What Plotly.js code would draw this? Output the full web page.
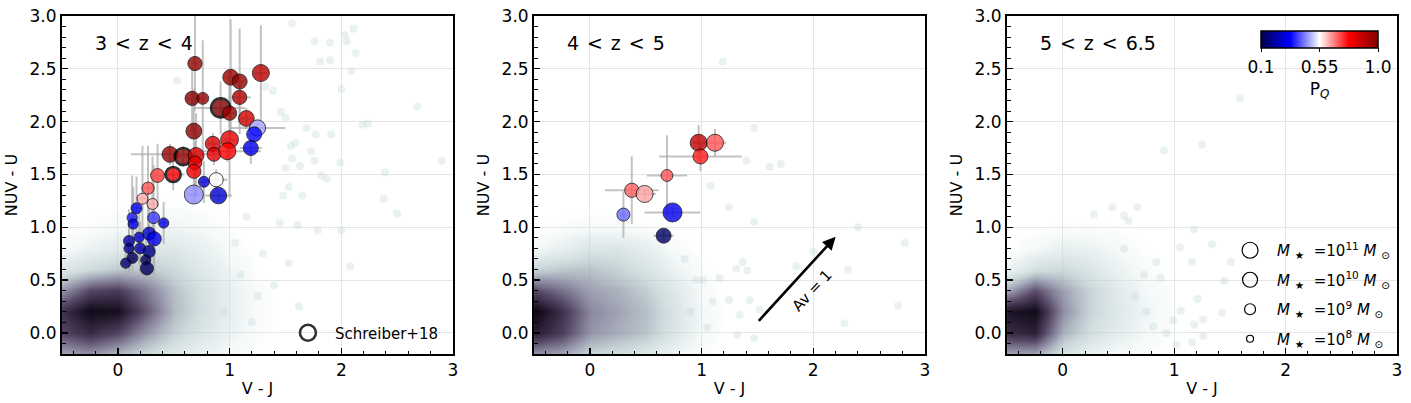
<!DOCTYPE html>
<html>
<head>
<meta charset="utf-8">
<script src="https://cdn.plot.ly/plotly-3.0.1.min.js"></script>
<style>html,body{margin:0;padding:0;background:#fff;}#chart{width:1411px;height:403px;}</style>
</head>
<body>
<div id="chart"></div>
<script>
// ---------------- data ----------------
// Panel 1 : 3 < z < 4
const vj1   = [0.69,1.01,1.09,1.28,0.665,0.76,1.09,0.92,1.00,1.15,1.25,1.22,1.19,0.68,1.00,0.85,0.86,0.98,0.466,0.585,0.70,0.69,0.68,0.495,0.355,0.27,0.88,0.77,0.68,0.90,0.22,0.31,0.167,0.128,0.137,0.32,0.41,0.10,0.19,0.28,0.325,0.10,0.20,0.28,0.13,0.07,0.25,0.26];
const nuvu1 = [2.55,2.42,2.38,2.46,2.22,2.22,2.23,2.13,2.08,2.03,1.94,1.88,1.75,1.91,1.83,1.79,1.69,1.72,1.69,1.67,1.68,1.61,1.53,1.50,1.49,1.37,1.45,1.43,1.31,1.30,1.27,1.22,1.18,1.09,1.03,1.09,1.04,0.87,0.905,0.94,0.89,0.80,0.80,0.77,0.71,0.66,0.69,0.61];
const pq1   = [0.97,0.95,0.97,0.90,0.98,0.97,0.91,1.00,0.95,0.86,0.47,0.33,0.30,0.98,0.82,0.84,0.82,0.78,0.97,0.97,0.84,0.82,0.80,0.80,0.72,0.70,0.55,0.28,0.45,0.27,0.62,0.62,0.30,0.35,0.30,0.38,0.30,0.22,0.28,0.26,0.30,0.18,0.22,0.18,0.12,0.15,0.12,0.13];
const logm1 = [9.8,10.2,10.0,10.5,9.8,9.2,9.8,11.0,9.8,10.2,10.3,10.0,10.0,10.2,10.7,10.0,9.7,10.5,10.2,10.5,10.2,9.7,9.8,10.0,9.7,9.3,9.8,9.0,11.0,10.4,9.0,9.0,9.0,8.8,8.8,9.2,8.8,9.0,8.8,9.5,9.8,8.8,9.0,9.3,9.0,8.8,8.8,9.5];
const ex1   = [0.03,0.05,0.04,0.05,0.05,0.03,0.10,0.22,0.05,0.05,0.25,0.05,0.10,0.03,0.05,0.05,0.05,0.30,0.35,0.08,0.05,0.05,0.05,0.10,0.05,0.06,0.10,0.05,0.05,0.12,0.05,0.05,0.04,0.03,0.03,0.03,0.03,0.03,0.03,0.03,0.03,0.03,0.03,0.03,0.03,0.03,0.03,0.03];
const ey1   = [0.45,0.55,0.50,0.45,0.30,0.55,0.15,0.25,0.40,0.10,0.05,0.08,0.15,0.40,0.55,0.10,0.10,0.10,0.10,0.10,0.40,0.20,0.15,0.15,0.30,0.40,0.10,0.20,0.08,0.05,0.50,0.45,0.30,0.40,0.35,0.50,0.20,0.30,0.25,0.30,0.35,0.25,0.25,0.25,0.15,0.10,0.20,0.10];
const schreiber1 = [0,0,0,0,0,0,0,1,0,0,0,0,0,0,0,0,0,0,0,1,0,0,0,1,0,0,0,0,0,0,0,0,0,0,0,0,0,0,0,0,0,0,0,0,0,0,0,0];

// Panel 2 : 4 < z < 5
const vj2   = [0.974,1.12,0.99,0.69,0.375,0.49,0.30,0.74,0.66];
const nuvu2 = [1.80,1.80,1.67,1.49,1.35,1.315,1.12,1.14,0.92];
const pq2   = [0.88,0.70,0.75,0.70,0.69,0.63,0.42,0.30,0.13];
const logm2 = [10.5,10.5,10.0,9.2,9.8,10.5,9.5,11.0,10.0];
const ex2   = [0.05,0.10,0.37,0.18,0.24,0.10,0.03,0.25,0.09];
const ey2   = [0.17,0.13,0.14,0.38,0.32,0.06,0.22,0.05,0.05];

// background galaxy density (V-J bin centres, NUV-U bin centres, relative density)
const gridVJ  = [-0.5,-0.25,0,0.25,0.5,0.75,1.0,1.25,1.5,1.75,2.0,2.25,2.5,2.75,3.0];
const gridNUV = [-0.2,0.0,0.2,0.4,0.6,0.8,1.0,1.2,1.4,1.6];
const dens1 = [
 [0.45,0.50,0.40,0.28,0.18,0.10,0.04,0.01,0,0,0,0,0,0,0],
 [0.72,0.82,0.72,0.50,0.32,0.20,0.10,0.03,0,0,0,0,0,0,0],
 [0.80,0.97,0.95,0.68,0.40,0.25,0.12,0.03,0,0,0,0,0,0,0],
 [0.50,0.72,0.76,0.58,0.38,0.24,0.12,0.03,0,0,0,0,0,0,0],
 [0.18,0.28,0.35,0.35,0.28,0.18,0.08,0.01,0,0,0,0,0,0,0],
 [0.04,0.10,0.16,0.20,0.18,0.12,0.04,0,0,0,0,0,0,0,0],
 [0,0.02,0.05,0.08,0.08,0.05,0.01,0,0,0,0,0,0,0,0],
 [0,0,0.01,0.02,0.02,0.01,0,0,0,0,0,0,0,0,0],
 [0,0,0,0,0,0,0,0,0,0,0,0,0,0,0],
 [0,0,0,0,0,0,0,0,0,0,0,0,0,0,0]];
const dens2 = [
 [0.50,0.45,0.30,0.25,0.18,0.08,0.02,0,0,0,0,0,0,0,0],
 [0.88,0.75,0.50,0.43,0.36,0.20,0.05,0,0,0,0,0,0,0,0],
 [1.00,0.80,0.54,0.46,0.38,0.22,0.06,0,0,0,0,0,0,0,0],
 [0.72,0.60,0.47,0.42,0.33,0.18,0.04,0,0,0,0,0,0,0,0],
 [0.30,0.35,0.37,0.31,0.22,0.10,0.02,0,0,0,0,0,0,0,0],
 [0.06,0.12,0.20,0.20,0.13,0.04,0,0,0,0,0,0,0,0,0],
 [0,0.02,0.04,0.04,0.02,0,0,0,0,0,0,0,0,0,0],
 [0,0,0,0,0,0,0,0,0,0,0,0,0,0,0],
 [0,0,0,0,0,0,0,0,0,0,0,0,0,0,0],
 [0,0,0,0,0,0,0,0,0,0,0,0,0,0,0]];
const dens3 = [
 [0.45,0.45,0.22,0.10,0.04,0.01,0,0,0,0,0,0,0,0,0],
 [0.82,0.86,0.42,0.25,0.14,0.06,0.01,0,0,0,0,0,0,0,0],
 [0.92,0.97,0.52,0.30,0.18,0.08,0.01,0,0,0,0,0,0,0,0],
 [0.45,0.70,0.47,0.30,0.16,0.06,0.01,0,0,0,0,0,0,0,0],
 [0.08,0.25,0.28,0.20,0.10,0.03,0,0,0,0,0,0,0,0,0],
 [0,0.05,0.12,0.10,0.05,0.01,0,0,0,0,0,0,0,0,0],
 [0,0,0.02,0.02,0.01,0,0,0,0,0,0,0,0,0,0],
 [0,0,0,0,0,0,0,0,0,0,0,0,0,0,0],
 [0,0,0,0,0,0,0,0,0,0,0,0,0,0,0],
 [0,0,0,0,0,0,0,0,0,0,0,0,0,0,0]];

// sparse background galaxies
const bgx1 = [1.56,1.76,1.90,2.03,2.11,2.05,2.13,1.81,1.90,2.09,2.00,1.39,1.32,2.68,1.46,1.50,1.69,1.77,1.91,2.19,2.24,1.55,1.59,1.73,1.63,1.56,1.50,1.76,1.99,2.39,2.90,1.82,1.87,1.53,1.65,1.48,2.38,2.00,2.08,2.50,1.79,1.61,1.53,1.45,0.53,1.10,1.25,1.30,1.05,0.95,1.20,1.40,1.62,1.15];
const bgy1 = [2.93,2.76,2.75,2.82,2.88,2.76,2.65,2.57,2.58,2.48,2.31,2.29,2.33,2.14,2.09,2.04,1.94,1.88,1.88,1.97,1.98,1.77,1.80,1.72,1.58,1.65,1.56,1.63,1.61,1.52,1.63,1.49,1.46,1.38,1.30,1.30,1.27,0.97,0.63,1.13,0.97,1.02,0.66,1.04,2.39,0.55,0.35,0.75,0.85,0.20,0.10,0.45,0.25,1.10];
const bgx2 = [1.245,1.47,2.40,2.82,2.00,2.31,1.85,1.37,1.41,1.31,1.43,1.245,1.34,2.28,2.76,1.52,1.47,1.32,1.16,0.95,1.01,1.19,1.47,1.40,1.61,1.71,1.08,0.85,0.90,1.05,1.10];
const bgy2 = [1.19,1.05,1.00,0.85,0.77,0.60,0.63,0.67,0.59,0.61,0.31,0.31,0.17,0.09,0.26,0.22,-0.05,-0.02,0.52,0.50,0.50,2.57,1.94,1.63,1.57,1.60,1.39,0.70,0.20,0.05,0.30];
const bgx3 = [0.445,0.28,0.55,0.59,0.67,1.18,1.05,1.34,1.16,1.51,1.45,1.21,1.43,1.26,1.18,1.26,1.16,1.02,1.06,0.81,0.93,0.99,0.73,0.88,0.84,1.59,1.25,0.91,0.65,0.75,0.55];
const bgy3 = [1.19,1.12,1.11,1.06,1.19,0.98,0.81,0.84,0.67,0.67,0.49,0.32,0.19,0.13,0.08,-0.03,-0.09,-0.11,0.21,0.06,0.00,0.12,0.55,0.52,0.67,2.22,1.78,1.73,0.35,0.20,0.80];

// legend masses (log10 M / Msun)
const legendLogM = [11,10,9,8];
const legendLabels = ['11','10','9','8'];

// dust vector A_V = 1 (start, end in V-J, NUV-U)
const avStart = [1.50,0.10];
const avEnd   = [2.20,0.91];

const HS = '\u200a';
const panelTitles = ['3'+HS+' &lt; '+HS+'z'+HS+' &lt; '+HS+'4', '4'+HS+' &lt; '+HS+'z'+HS+' &lt; '+HS+'5', '5'+HS+' &lt; '+HS+'z'+HS+' &lt; '+HS+'6.5'];
const xTicks = [0,1,2,3];
const yTicks = [0.0,0.5,1.0,1.5,2.0,2.5,3.0];
const pqTicks = [0.1,0.55,1.0];

// ---------------- styling helpers ----------------
const FONT = 'DejaVu Sans, sans-serif';
const sizeOf = m => 7 + 4*(m - 8);
const seismic = [[0,'rgb(0,0,77)'],[0.25,'rgb(0,0,255)'],[0.5,'rgb(255,255,255)'],[0.75,'rgb(255,0,0)'],[1,'rgb(128,0,0)']];
const boneScale = [
  [0,'rgba(255,255,255,0)'],
  [0.02,'rgba(222,235,235,0.12)'],
  [0.1,'rgba(206,223,223,0.42)'],
  [0.3,'rgba(180,198,202,0.72)'],
  [0.5,'rgba(135,135,158,0.88)'],
  [0.72,'rgba(75,60,92,0.95)'],
  [0.9,'rgba(35,25,45,1)'],
  [1,'rgba(10,5,15,1)']];

const traces = [];
const dens = [dens1,dens2,dens3];
const bgx = [bgx1,bgx2,bgx3], bgy = [bgy1,bgy2,bgy3];
for (let i=0;i<3;i++){
  const xa = i===0?'x':'x'+(i+1), ya = i===0?'y':'y'+(i+1);
  traces.push({type:'heatmap', x:gridVJ, y:gridNUV, z:dens[i], zmin:0, zmax:1, zsmooth:'best',
    colorscale:boneScale, showscale:false, hoverinfo:'skip', xaxis:xa, yaxis:ya, showlegend:false});
  traces.push({type:'scatter', mode:'markers', x:bgx[i], y:bgy[i], xaxis:xa, yaxis:ya,
    marker:{size:8, color:'rgb(196,216,216)', opacity:0.35, line:{width:0}}, hoverinfo:'skip', showlegend:false});
}

function addPoints(vj, nuvu, pq, logm, ex, ey, sch, xa, ya){
  traces.push({type:'scatter', mode:'markers', x:vj, y:nuvu, xaxis:xa, yaxis:ya, showlegend:false, hoverinfo:'skip',
    marker:{size:2, opacity:0},
    error_x:{type:'data', array:ex, color:'rgba(175,175,175,0.75)', thickness:2, width:0},
    error_y:{type:'data', array:ey, color:'rgba(175,175,175,0.75)', thickness:2, width:0}});
  traces.push({type:'scatter', mode:'markers', x:vj, y:nuvu, xaxis:xa, yaxis:ya, showlegend:false,
    marker:{size:logm.map(sizeOf), color:pq, coloraxis:'coloraxis', opacity:0.8,
      line:{color:'black', width:sch.map(s=>s?2.6:0.9)}}});
}
addPoints(vj1,nuvu1,pq1,logm1,ex1,ey1,schreiber1,'x','y');
addPoints(vj2,nuvu2,pq2,logm2,ex2,ey2,vj2.map(()=>0),'x2','y2');

// legend entries
traces.push({type:'scatter', mode:'markers', x:[null], y:[null], xaxis:'x', yaxis:'y', name:'Schreiber+18',
  legend:'legend', marker:{size:20, color:'rgba(0,0,0,0)', line:{color:'rgb(50,50,50)', width:2.6}}});
const SP = '\u00a0';
legendLogM.forEach((m,k)=>{
  traces.push({type:'scatter', mode:'markers', x:[null], y:[null], xaxis:'x3', yaxis:'y3', legend:'legend2',
    legendgroup:'m'+k,
    name:'<i>M</i>'+SP+'<sub>★</sub>'+SP+SP+'=10<sup>'+legendLabels[k]+'</sup>'+SP+'<i>M</i>'+SP+'<sub>⊙</sub>',
    marker:{size:sizeOf(m), color:'rgba(0,0,0,0)', line:{color:'black', width:1.2}}});
});

// ---------------- layout ----------------
const doms = [[0,0.2929],[0.3536,0.6464],[0.7079,1]];
function xAxis(d, anchor){
  return {domain:d, anchor:anchor, range:[-0.5,3], tickvals:xTicks, ticks:'inside', ticklen:6, tickwidth:1.3, tickcolor:'black',
    showline:true, linewidth:2, linecolor:'black', mirror:true, showgrid:true, gridcolor:'#e5e5e5', gridwidth:1, zeroline:false,
    minor:{dtick:0.2, tick0:0, ticks:'inside', ticklen:3.5, tickwidth:1, tickcolor:'black', showgrid:false},
    tickfont:{family:FONT, size:17, color:'black'},
    title:{text:'V - J', font:{family:FONT, size:16, color:'black'}, standoff:3}};
}
function yAxis(anchor){
  return {domain:[0,1], anchor:anchor, range:[-0.2,3.0], tickvals:yTicks, tickformat:'.1f', ticks:'inside', ticklen:6, tickwidth:1.3, tickcolor:'black',
    showline:true, linewidth:2, linecolor:'black', mirror:true, showgrid:true, gridcolor:'#e5e5e5', gridwidth:1, zeroline:false,
    minor:{dtick:0.1, tick0:0, ticks:'inside', ticklen:3.5, tickwidth:1, tickcolor:'black', showgrid:false},
    tickfont:{family:FONT, size:17, color:'black'},
    title:{text:'NUV - U', font:{family:FONT, size:16, color:'black'}, standoff:8}};
}

const annotations = panelTitles.map((t,i)=>({
  text:t, xref:(i===0?'x':'x'+(i+1))+' domain', yref:(i===0?'y':'y'+(i+1))+' domain',
  x:0.079, y:0.92, xanchor:'left', yanchor:'middle', showarrow:false, font:{family:FONT, size:19, color:'black'}}));
annotations.push({xref:'x2', yref:'y2', axref:'x2', ayref:'y2', x:avEnd[0], y:avEnd[1], ax:avStart[0], ay:avStart[1],
  text:'', showarrow:true, arrowhead:2, arrowsize:1, arrowwidth:2.6, arrowcolor:'black'});
annotations.push({xref:'x2', yref:'y2', x:(avStart[0]+avEnd[0])/2, y:(avStart[1]+avEnd[1])/2, xshift:15, yshift:-11,
  text:'Av = 1', textangle:-47, showarrow:false, font:{family:FONT, size:15, color:'black'}});

const layout = {
  width:1411, height:403, margin:{l:62, r:14, t:16, b:49}, paper_bgcolor:'white', plot_bgcolor:'white',
  font:{family:FONT, color:'black'},
  xaxis:xAxis(doms[0],'y'), xaxis2:xAxis(doms[1],'y2'), xaxis3:xAxis(doms[2],'y3'),
  yaxis:yAxis('x'), yaxis2:yAxis('x2'), yaxis3:yAxis('x3'),
  coloraxis:{colorscale:seismic, cmin:0.1, cmax:1.0,
    colorbar:{orientation:'h', x:0.942, xanchor:'center', y:0.956, yanchor:'top', len:117, lenmode:'pixels', thickness:17,
      outlinewidth:1.5, outlinecolor:'black', xpad:0, ypad:0, tickvals:pqTicks, ticktext:['0.1','0.55','1.0'],
      ticks:'outside', ticklen:4, tickcolor:'black', tickfont:{family:FONT, size:17, color:'black'},
      title:{text:'P<sub><i>Q</i></sub>', side:'bottom', font:{family:FONT, size:17, color:'black'}}}},
  legend:{x:0.164, y:0.062, xanchor:'left', yanchor:'middle', bgcolor:'rgba(0,0,0,0)', borderwidth:0,
    font:{family:FONT, size:15, color:'black'}, itemsizing:'trace', itemwidth:44},
  legend2:{x:0.8697, y:0.355, xanchor:'left', yanchor:'top', bgcolor:'rgba(0,0,0,0)', borderwidth:0,
    font:{family:FONT, size:15, color:'black'}, itemsizing:'trace', itemwidth:44, traceorder:'grouped', tracegroupgap:7},
  annotations:annotations, showlegend:true
};

Plotly.newPlot('chart', traces, layout, {staticPlot:true, displayModeBar:false});
</script>
</body>
</html>
